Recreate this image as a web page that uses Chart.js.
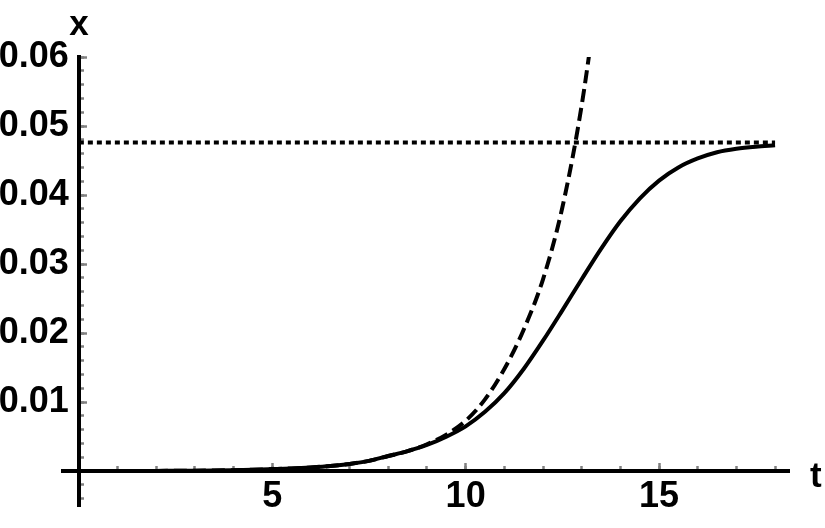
<!DOCTYPE html>
<html><head><meta charset="utf-8">
<script src="https://cdn.jsdelivr.net/npm/chart.js@4"></script>
<style>html,body{margin:0;padding:0;background:#fff}#wrap{width:825px;height:528px}</style>
</head><body><div id="wrap"><canvas id="c" width="825" height="528"></canvas></div>
<script>
// ---- data ----
const tSolid = [0,0.5,1,1.5,2,2.5,3,3.5,4,4.5,5,5.5,6,6.5,7,7.5,8,8.5,9,9.5,10,10.5,11,11.5,12,12.5,13,13.5,14,14.5,15,15.5,16,16.5,17,17.5,18];
const xSolid = [0.00001,0.000014,0.00002,0.00003,0.00004,0.00006,0.00008,0.00011,0.00015,0.00021,0.0003,0.0004,0.00055,0.00075,0.00105,0.0015,0.0022,0.0029,0.0038,0.0050,0.0065,0.0086,0.0113,0.0148,0.0189,0.0233,0.0278,0.0322,0.0362,0.0395,0.0421,0.0440,0.0453,0.0462,0.0467,0.0470,0.0472];
const tDashed = [0,0.5,1,1.5,2,2.5,3,3.5,4,4.5,5,5.5,6,6.5,7,7.5,8,8.5,9,9.5,10,10.5,11,11.5,12,12.5,13,13.5];
const xDashed = [0.00001,0.000014,0.00002,0.00003,0.00004,0.00006,0.00008,0.00011,0.00015,0.00021,0.0003,0.0004,0.00055,0.00075,0.00105,0.0015,0.0022,0.0029,0.0039,0.0053,0.0073,0.0104,0.0148,0.0205,0.0278,0.0382,0.0530,0.0730];
const tAsymptote = [0, 18];
const xAsymptote = [0.0476, 0.0476];
const tRange = [-0.41, 18.36];
const xRange = [-0.0051, 0.06];
const tMajorStep = 5, tMinorStep = 1;
const xMajorStep = 0.01, xMinorStep = 0.002;
const tAxisTitle = 't', xAxisTitle = 'x';

const pts = (ts, xs) => ts.map((t, i) => ({x: t, y: xs[i]}));
const FONT = '"Liberation Sans", Arial, sans-serif';
const TICK_GRAY = '#808080';
const zeroH = s => { s.height = 0; };
const zeroW = s => { s.width = 0; };

const axisTitlePlugin = {
  id: 'axisTitles',
  afterDraw(chart) {
    const {ctx, chartArea, scales} = chart;
    ctx.save();
    ctx.font = 'bold 35px ' + FONT;
    ctx.fillStyle = '#000';
    ctx.textBaseline = 'alphabetic';
    ctx.textAlign = 'center';
    ctx.fillText(xAxisTitle, scales.x.getPixelForValue(0), chartArea.top - 22);
    ctx.textAlign = 'left';
    ctx.fillText(tAxisTitle, chartArea.right + 21, scales.y.getPixelForValue(0) + 16);
    ctx.restore();
  }
};

function tickAxis(axis, range, step, len, posObj) {
  return {
    type: 'linear', axis: axis, position: posObj, min: range[0], max: range[1], z: -1,
    ticks: {display: false, stepSize: step, includeBounds: false, padding: 0},
    grid: {display: true, drawOnChartArea: false, drawTicks: true, tickLength: len, tickWidth: 2.5, tickColor: TICK_GRAY},
    border: {display: false},
    afterFit: axis === 'x' ? zeroH : zeroW
  };
}

new Chart(document.getElementById('c'), {
  type: 'line',
  data: {
    datasets: [
      {data: pts(tAsymptote, xAsymptote), borderColor: '#000', borderWidth: 4, borderDash: [5, 4], pointRadius: 0, xAxisID: 'x', yAxisID: 'y'},
      {data: pts(tDashed, xDashed), borderColor: '#000', borderWidth: 4, borderDash: [13, 6], pointRadius: 0, cubicInterpolationMode: 'monotone', xAxisID: 'x', yAxisID: 'y'},
      {data: pts(tSolid, xSolid), borderColor: '#000', borderWidth: 4, pointRadius: 0, cubicInterpolationMode: 'monotone', xAxisID: 'x', yAxisID: 'y'}
    ]
  },
  options: {
    responsive: false, animation: false, events: [],
    layout: {padding: {left: 63, right: 36, top: 57, bottom: 21}},
    plugins: {legend: {display: false}, tooltip: {enabled: false}},
    scales: {
      x: {
        type: 'linear', position: {y: 0}, min: tRange[0], max: tRange[1],
        ticks: {stepSize: tMajorStep, includeBounds: false, padding: 4, color: '#000', font: {family: FONT, size: 36, weight: 'bold'},
          callback: v => Math.abs(v) < 1e-9 ? '' : String(v), maxRotation: 0, autoSkip: false},
        grid: {display: false, drawTicks: false},
        border: {display: true, color: '#000', width: 4},
        afterFit: zeroH
      },
      y: {
        type: 'linear', position: {x: 0}, min: xRange[0], max: xRange[1],
        ticks: {stepSize: xMajorStep, includeBounds: false, padding: 0, color: '#000', font: {family: FONT, size: 36, weight: 'bold'},
          callback: v => Math.abs(v) < 1e-9 ? '' : v.toFixed(2) + ' ', autoSkip: false},
        grid: {display: false, drawTicks: false},
        border: {display: true, color: '#000', width: 4},
        afterFit: zeroW
      },
      xMajor: tickAxis('x', tRange, tMajorStep, -8, {y: 0}),
      xMinor: tickAxis('x', tRange, tMinorStep, -5, {y: 0}),
      yMajor: tickAxis('y', xRange, xMajorStep, -8, {x: 0}),
      yMinor: tickAxis('y', xRange, xMinorStep, -5, {x: 0})
    }
  },
  plugins: [axisTitlePlugin]
});
</script></body></html>
